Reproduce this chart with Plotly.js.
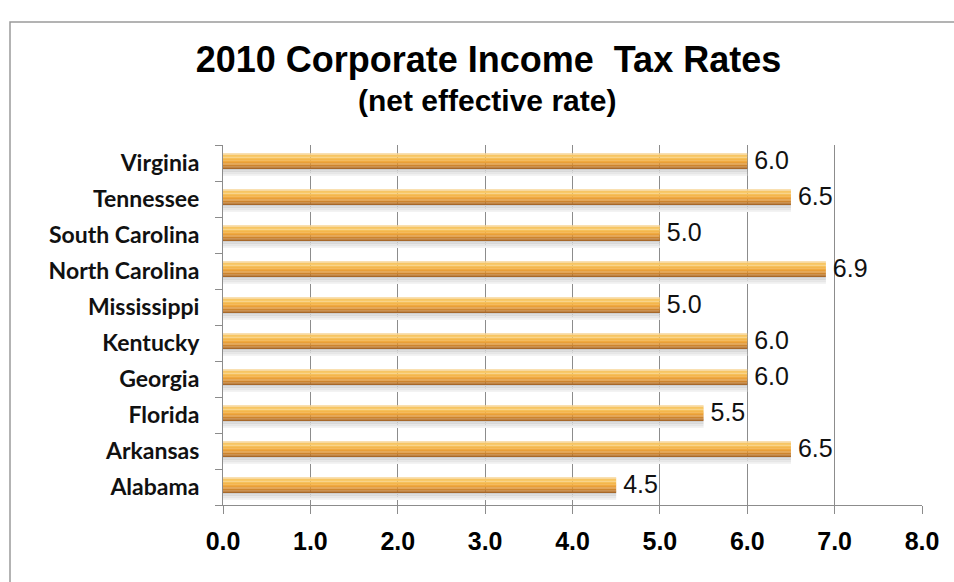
<!DOCTYPE html>
<html>
<head>
<meta charset="utf-8">
<script src="https://cdn.plot.ly/plotly-3.0.1.min.js"></script>
<style>
html,body{margin:0;padding:0;background:#fff;overflow:hidden;}
#chart{width:954px;height:582px;}
</style>
</head>
<body>
<div id="chart"></div>
<script>
// Data (bottom to top)
const states = ["Alabama","Arkansas","Florida","Georgia","Kentucky","Mississippi","North Carolina","South Carolina","Tennessee","Virginia"];
const rates  = [4.5, 6.5, 5.5, 6.0, 6.0, 5.0, 6.9, 5.0, 6.5, 6.0];
const xTickVals = [0,1,2,3,4,5,6,7,8];
const xTickText = ["0.0","1.0","2.0","3.0","4.0","5.0","6.0","7.0","8.0"];

// cylinder-like shading, bottom to top: [offset, width, color]
const layers = [
  [-0.36, 0.05, "#f3f3f3"],
  [-0.31, 0.05, "#e6e6e6"],
  [-0.26, 0.05, "#d9d9d9"],
  [-0.21, 0.04, "#cfcfcf"],
  [-0.17, 0.04, "#A7682A"],
  [-0.13, 0.04, "#BA7529"],
  [-0.09, 0.04, "#CD842D"],
  [-0.05, 0.04, "#DD9232"],
  [-0.01, 0.04, "#E89E38"],
  [0.03, 0.04, "#F0AA40"],
  [0.07, 0.04, "#F4B64C"],
  [0.11, 0.04, "#F6C05A"],
  [0.15, 0.04, "#F8CA6B"],
  [0.19, 0.04, "#F7C563"],
  [0.23, 0.04, "#F7D699"]
];

const traces = layers.map(l => ({
  type: "bar",
  orientation: "h",
  x: rates,
  y: states,
  offset: l[0],
  width: l[1] + 0.003,
  marker: {color: l[2], line: {width: 0}},
  hoverinfo: "skip"
}));

traces.push({
  type: "scatter",
  mode: "text",
  x: rates,
  y: states,
  text: rates.map(v => "\u00a0" + v.toFixed(1)),
  textposition: "middle right",
  textfont: {family: "Liberation Sans, Arial, sans-serif", size: 25, color: "#111"},
  cliponaxis: false,
  hoverinfo: "skip"
});

const layout = {
  width: 954,
  height: 582,
  margin: {l: 223, r: 32, t: 145, b: 77},
  paper_bgcolor: "#ffffff",
  plot_bgcolor: "#ffffff",
  barmode: "overlay",
  showlegend: false,
  hovermode: false,
  title: {
    text: "<b>2010 Corporate Income\u00a0 Tax Rates</b>",
    font: {family: "Liberation Sans, Arial, sans-serif", size: 36, color: "#000"},
    x: 0.512, xanchor: "center",
    y: 1 - 47/582, yanchor: "top"
  },
  annotations: [{
    text: "<b>(net effective rate)</b>",
    xref: "paper", yref: "paper",
    x: (487-223)/699, y: (505-100)/360,
    xanchor: "center", yanchor: "middle",
    showarrow: false,
    font: {family: "Liberation Sans, Arial, sans-serif", size: 30, color: "#000"}
  }],
  xaxis: {
    range: [0, 8],
    tickvals: xTickVals,
    ticktext: xTickText,
    showgrid: true,
    gridcolor: "#8c8c8c",
    gridwidth: 1,
    zeroline: false,
    showline: true,
    linecolor: "#8c8c8c",
    ticks: "outside",
    ticklen: 8,
    tickcolor: "#8c8c8c",
    ticklabelstandoff: 6,
    tickfont: {family: "Liberation Sans, Arial, sans-serif", size: 25, color: "#000", weight: "bold"},
    fixedrange: true
  },
  yaxis: {
    type: "category",
    categoryorder: "array",
    categoryarray: states,
    range: [-0.5, 9.5],
    showgrid: false,
    zeroline: false,
    showline: true,
    linecolor: "#8c8c8c",
    ticks: "outside",
    tickson: "boundaries",
    ticklen: 7,
    tickcolor: "#8c8c8c",
    ticklabelstandoff: 18,
    tickfont: {family: "Lato, Carlito, sans-serif", size: 23, color: "#111", weight: "bold"},
    fixedrange: true
  },
  shapes: [{
    type: "rect", xref: "paper", yref: "paper", layer: "below",
    x0: (10-223)/699, x1: 1.2, y0: -0.6, y1: (505-22)/360,
    line: {color: "#9a9a9a", width: 1.5}, fillcolor: "rgba(0,0,0,0)"
  }]
};

Plotly.newPlot("chart", traces, layout, {displayModeBar: false, staticPlot: true});
</script>
</body>
</html>
